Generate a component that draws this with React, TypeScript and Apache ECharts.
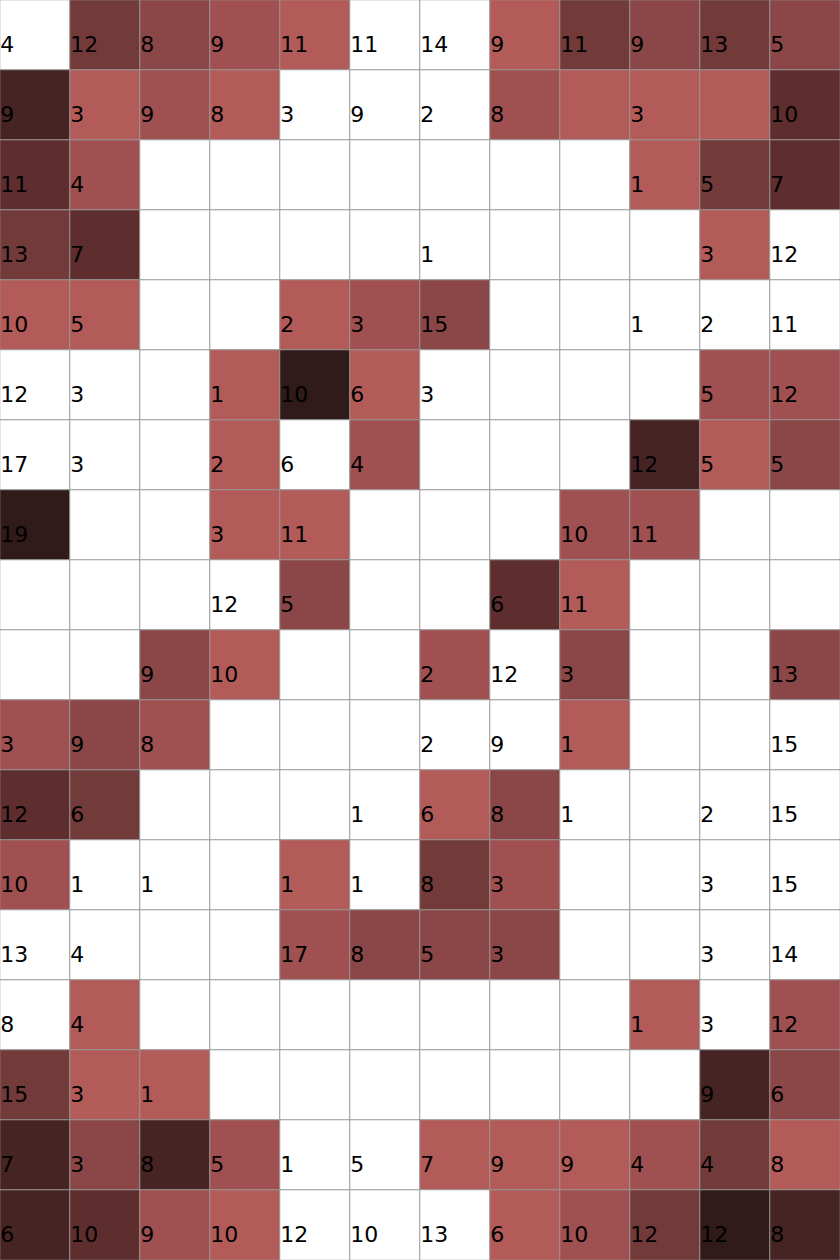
import React, { useEffect, useRef } from "react";
import * as echarts from "echarts";

const xCategories = ["C1", "C2", "C3", "C4", "C5", "C6", "C7", "C8", "C9", "C10", "C11", "C12"];
const yCategories = [
  "R1", "R2", "R3", "R4", "R5", "R6", "R7", "R8", "R9",
  "R10", "R11", "R12", "R13", "R14", "R15", "R16", "R17", "R18",
];

// shade level per cell: 0 = white, 1 (lightest) .. 7 (darkest)
const shadeRows = [
  [0, 4, 3, 2, 1, 0, 0, 1, 4, 3, 4, 3],
  [6, 1, 2, 1, 0, 0, 0, 2, 1, 1, 1, 5],
  [5, 2, 0, 0, 0, 0, 0, 0, 0, 1, 4, 5],
  [4, 5, 0, 0, 0, 0, 0, 0, 0, 0, 1, 0],
  [1, 1, 0, 0, 1, 2, 3, 0, 0, 0, 0, 0],
  [0, 0, 0, 1, 7, 1, 0, 0, 0, 0, 2, 2],
  [0, 0, 0, 1, 0, 2, 0, 0, 0, 6, 1, 3],
  [7, 0, 0, 1, 1, 0, 0, 0, 2, 2, 0, 0],
  [0, 0, 0, 0, 3, 0, 0, 5, 1, 0, 0, 0],
  [0, 0, 3, 1, 0, 0, 2, 0, 3, 0, 0, 3],
  [2, 3, 2, 0, 0, 0, 0, 0, 1, 0, 0, 0],
  [5, 4, 0, 0, 0, 0, 1, 3, 0, 0, 0, 0],
  [2, 0, 0, 0, 1, 0, 4, 2, 0, 0, 0, 0],
  [0, 0, 0, 0, 2, 3, 3, 3, 0, 0, 0, 0],
  [0, 1, 0, 0, 0, 0, 0, 0, 0, 1, 0, 2],
  [4, 1, 1, 0, 0, 0, 0, 0, 0, 0, 6, 3],
  [6, 3, 6, 2, 0, 0, 1, 1, 1, 2, 4, 1],
  [6, 5, 2, 1, 0, 0, 0, 1, 2, 4, 7, 6],
];

// number shown in each cell: 0 = no label
const labelRows = [
  [4, 12, 8, 9, 11, 11, 14, 9, 11, 9, 13, 5],
  [9, 3, 9, 8, 3, 9, 2, 8, 0, 3, 0, 10],
  [11, 4, 0, 0, 0, 0, 0, 0, 0, 1, 5, 7],
  [13, 7, 0, 0, 0, 0, 1, 0, 0, 0, 3, 12],
  [10, 5, 0, 0, 2, 3, 15, 0, 0, 1, 2, 11],
  [12, 3, 0, 1, 10, 6, 3, 0, 0, 0, 5, 12],
  [17, 3, 0, 2, 6, 4, 0, 0, 0, 12, 5, 5],
  [19, 0, 0, 3, 11, 0, 0, 0, 10, 11, 0, 0],
  [0, 0, 0, 12, 5, 0, 0, 6, 11, 0, 0, 0],
  [0, 0, 9, 10, 0, 0, 2, 12, 3, 0, 0, 13],
  [3, 9, 8, 0, 0, 0, 2, 9, 1, 0, 0, 15],
  [12, 6, 0, 0, 0, 1, 6, 8, 1, 0, 2, 15],
  [10, 1, 1, 0, 1, 1, 8, 3, 0, 0, 3, 15],
  [13, 4, 0, 0, 17, 8, 5, 3, 0, 0, 3, 14],
  [8, 4, 0, 0, 0, 0, 0, 0, 0, 1, 3, 12],
  [15, 3, 1, 0, 0, 0, 0, 0, 0, 0, 9, 6],
  [7, 3, 8, 5, 1, 5, 7, 9, 9, 4, 4, 8],
  [6, 10, 9, 10, 12, 10, 13, 6, 10, 12, 12, 8],
];

const shadePalette = ["#ffffff", "#b35b59", "#a05050", "#8b4747", "#733a3a", "#5e2e2e", "#472424", "#301a1a"];

export default function App() {
  const ref = useRef<HTMLDivElement>(null);

  useEffect(() => {
    if (!ref.current) return;
    const chart = echarts.init(ref.current, undefined, { renderer: "svg" });

    const data: any[] = [];
    shadeRows.forEach((row, yi) => {
      row.forEach((lvl, xi) => {
        data.push([xi, yi, lvl, labelRows[yi][xi]]);
      });
    });

    chart.setOption({
      animation: false,
      backgroundColor: "#ffffff",
      grid: { left: 0, right: 0, top: 0, bottom: 0, containLabel: false },
      xAxis: {
        type: "category",
        data: xCategories,
        show: false,
        splitArea: { show: false },
      },
      yAxis: {
        type: "category",
        data: yCategories,
        inverse: true,
        show: false,
        splitArea: { show: false },
      },
      visualMap: {
        type: "piecewise",
        show: false,
        dimension: 2,
        seriesIndex: 0,
        pieces: shadePalette.map((c, i) => ({ value: i, color: c })),
      },
      series: [
        {
          type: "heatmap",
          data,
          itemStyle: { borderColor: "#999999", borderWidth: 1 },
          emphasis: { disabled: true },
          label: {
            show: true,
            position: [1, 45],
            align: "left",
            verticalAlign: "middle",
            color: "#000000",
            fontFamily: "DejaVu Sans",
            fontSize: 22,
            formatter: (p: any) => (p.value[3] ? String(p.value[3]) : ""),
          },
        },
      ],
    });

    return () => chart.dispose();
  }, []);

  return (
    <div
      ref={ref}
      style={{ position: "fixed", left: 0, top: 0, width: 840, height: 1260 }}
    />
  );
}
